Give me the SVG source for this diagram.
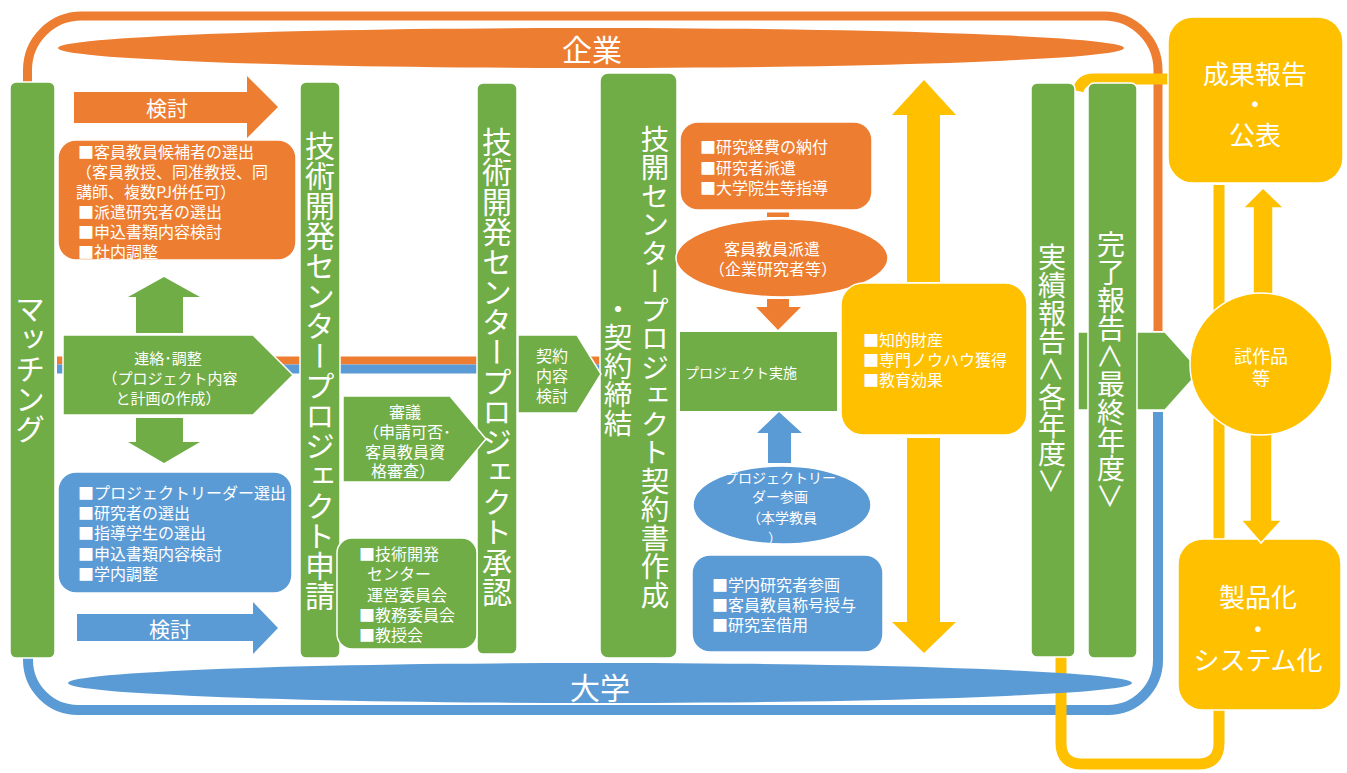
<svg xmlns="http://www.w3.org/2000/svg" width="1347" height="773" viewBox="0 0 1347 773">
<style>
text{font-family:"Noto Sans CJK JP","Liberation Sans",sans-serif;fill:#fff;dominant-baseline:central}
.g{fill:#70AD47;stroke:#fff;stroke-width:1.5}
.o{fill:#ED7D31;stroke:#fff;stroke-width:1.5}
.b{fill:#5B9BD5;stroke:#fff;stroke-width:1.5}
.y{fill:#FFC000;stroke:#fff;stroke-width:1.5}
.v{writing-mode:vertical-rl}
.m{text-anchor:middle}
.s16{font-size:16px}
.s15{font-size:15px}
.s14{font-size:14px}
</style>
<rect width="1347" height="773" fill="#fff"/>
<g id="connectors">
  <path d="M27.5 82 V70 A54 54 0 0 1 81.5 16 H1104 A54 54 0 0 1 1158 70 V331" fill="none" stroke="#ED7D31" stroke-width="9"/>
  <path d="M28 658 V660 A50 50 0 0 0 78 710 H1108 A50 50 0 0 0 1158 660 V412" fill="none" stroke="#5B9BD5" stroke-width="10"/>
  <rect x="57" y="356.5" width="543" height="8" fill="#ED7D31"/>
  <rect x="57" y="364.5" width="543" height="9" fill="#5B9BD5"/>
  <path d="M1168 79 H1094 Q1081 79 1078 91" fill="none" stroke="#FFC000" stroke-width="11"/>
  <path d="M1061 655 V743 Q1061 764 1082 764 H1198 Q1219 764 1219 743 V185" fill="none" stroke="#FFC000" stroke-width="11"/>
  <rect x="767" y="212.5" width="22" height="4.5" fill="#ED7D31"/>
</g>
<g id="banner-kigyo">
  <ellipse cx="591" cy="48" rx="533" ry="20" fill="#ED7D31"/>
  <text x="592" y="48" class="m" font-size="30">企業</text>
</g>
<g id="banner-daigaku">
  <ellipse cx="600" cy="683" rx="532" ry="20" fill="#5B9BD5"/>
  <text x="600" y="686" class="m" font-size="30">大学</text>
</g>
<g id="matching">
  <rect x="10" y="82" width="45" height="576" rx="6" class="g"/>
  <text x="30" y="369" class="v m" font-size="30">マッチング</text>
</g>
<g id="arrow-kento-o">
  <polygon points="74,92 247,92 247,76 278,107 247,138 247,123 74,123" fill="#ED7D31"/>
  <text x="167" y="107" class="m" font-size="21">検討</text>
</g>
<g id="box-kigyo-left">
  <rect x="58" y="140" width="238" height="120" rx="18" class="o"/>
  <text x="78" y="151" class="s16">■客員教員候補者の選出</text>
  <text x="76" y="171" class="s16">（客員教授、同准教授、同</text>
  <text x="76" y="191" class="s16">講師、複数PJ併任可）</text>
  <text x="78" y="211" class="s16">■派遣研究者の選出</text>
  <text x="78" y="231" class="s16">■申込書類内容検討</text>
  <text x="78" y="251" class="s16">■社内調整</text>
</g>
<g id="arrow-up-green">
  <polygon points="136,333 136,297 128,297 164,277 200,297 183,297 183,333" fill="#70AD47"/>
  <polygon points="136,418 136,442 128,442 164,463 200,442 183,442 183,418" fill="#70AD47"/>
</g>
<g id="renraku">
  <polygon points="63,335 253,335 293,375 253,415 63,415" class="g"/>
  <text x="168" y="357" class="m s15">連絡･調整</text>
  <text x="170" y="377" class="m s15">（プロジェクト内容</text>
  <text x="168" y="397" class="m s15">と計画の作成）</text>
</g>
<g id="box-daigaku-left">
  <rect x="58" y="472" width="234" height="121" rx="18" class="b"/>
  <text x="78" y="492" class="s16">■プロジェクトリーダー選出</text>
  <text x="78" y="512" class="s16">■研究者の選出</text>
  <text x="78" y="532" class="s16">■指導学生の選出</text>
  <text x="78" y="553" class="s16">■申込書類内容検討</text>
  <text x="78" y="573" class="s16">■学内調整</text>
</g>
<g id="arrow-kento-b">
  <polygon points="77,614 253,614 253,602 278,628 253,654 253,641 77,641" fill="#5B9BD5"/>
  <text x="170" y="628" class="m" font-size="21">検討</text>
</g>
<g id="shinsei">
  <rect x="300" y="82" width="40" height="576" rx="6" class="g"/>
  <text x="320" y="371" class="v m" font-size="30">技術開発センタープロジェクト申請</text>
</g>
<g id="shonin">
  <rect x="477" y="83" width="40" height="571" rx="6" class="g"/>
  <text x="497" y="367" class="v m" font-size="30">技術開発センタープロジェクト承認</text>
</g>
<g id="shingi">
  <polygon points="343,396 450,396 486,439 450,482 343,482" class="g"/>
  <text x="405" y="411" class="m s16">審議</text>
  <text x="407" y="431" class="m s16">（申請可否･</text>
  <text x="405" y="451" class="m s16">客員教員資</text>
  <text x="403" y="470" class="m s16">格審査）</text>
</g>
<g id="iinkai">
  <rect x="337" y="538" width="140" height="111" rx="15" class="g"/>
  <text x="359" y="553" class="s16">■技術開発</text>
  <text x="367" y="573" class="s16">センター</text>
  <text x="367" y="594" class="s16">運営委員会</text>
  <text x="359" y="614" class="s16">■教務委員会</text>
  <text x="359" y="634" class="s16">■教授会</text>
</g>
<g id="keiyaku">
  <rect x="600" y="73" width="77" height="585" rx="8" class="g"/>
  <text x="655" y="367" class="v m" font-size="28.5">技開センタープロジェクト契約書作成</text>
  <text x="618" y="366" class="v m" font-size="28.5">・契約締結</text>
</g>
<g id="keiyaku-naiyo">
  <polygon points="518,335 577,335 601,374 577,413 518,413" class="g"/>
  <text x="552" y="355" class="m s16">契約</text>
  <text x="552" y="375" class="m s16">内容</text>
  <text x="552" y="395" class="m s16">検討</text>
</g>
<g id="box-kigyo-right">
  <rect x="680" y="122" width="192" height="88" rx="18" class="o"/>
  <text x="700" y="146" class="s16">■研究経費の納付</text>
  <text x="700" y="167" class="s16">■研究者派遣</text>
  <text x="700" y="187" class="s16">■大学院生等指導</text>
</g>
<g id="haken">
  <ellipse cx="782" cy="258" rx="106" ry="39" class="o"/>
  <text x="772" y="248" class="m s16">客員教員派遣</text>
  <text x="773" y="268" class="m s16">（企業研究者等）</text>
</g>
<g id="arrow-down-o">
  <polygon points="767,299 789,299 789,307 801,307 778,330 756,307 767,307" fill="#ED7D31"/>
</g>
<g id="jisshi">
  <rect x="680" y="332" width="157" height="79" fill="#70AD47"/>
  <text x="685" y="372" class="s14">プロジェクト実施</text>
</g>
<g id="arrow-up-b">
  <polygon points="768,463 768,433 757,433 779,412 802,433 791,433 791,463" fill="#5B9BD5"/>
</g>
<g id="leader">
  <ellipse cx="782" cy="505" rx="89" ry="39" class="b"/>
  <text x="780" y="477" class="m s14">プロジェクトリー</text>
  <text x="780" y="496" class="m s14">ダー参画</text>
  <text x="782" y="517" class="m s14">（本学教員</text>
  <text x="775" y="537" class="m s14">）</text>
</g>
<g id="box-daigaku-right">
  <rect x="692" y="555" width="191" height="97" rx="18" class="b"/>
  <text x="712" y="584" class="s16">■学内研究者参画</text>
  <text x="712" y="604" class="s16">■客員教員称号授与</text>
  <text x="712" y="624" class="s16">■研究室借用</text>
</g>
<g id="seika-arrows">
  <polygon points="907,282 907,115 892,115 924,80 956,115 940,115 940,282" fill="#FFC000"/>
  <polygon points="907,438 907,622 892,622 924,653 956,622 940,622 940,438" fill="#FFC000"/>
</g>
<g id="seika">
  <rect x="841" y="283" width="186" height="152" rx="22" class="y"/>
  <text x="863" y="339" class="s16">■知的財産</text>
  <text x="863" y="359" class="s16">■専門ノウハウ獲得</text>
  <text x="863" y="379" class="s16">■教育効果</text>
</g>
<g id="arrow-shisaku">
  <polygon points="1078,332 1165,332 1200,371 1165,410 1078,410" class="g"/>
</g>
<g id="jisseki">
  <rect x="1031" y="83" width="44" height="574" rx="6" class="g"/>
  <text x="1052" y="369" class="v m" font-size="28">実績報告＜各年度＞</text>
</g>
<g id="kanryo">
  <rect x="1088" y="83" width="49" height="575" rx="6" class="g"/>
  <text x="1111" y="370" class="v m" font-size="28">完了報告＜最終年度＞</text>
</g>
<g id="kohyo">
  <rect x="1168" y="17" width="175" height="166" rx="25" class="y"/>
  <text x="1255" y="72" class="m" font-size="26">成果報告</text>
  <text x="1255" y="102" class="m" font-size="26">・</text>
  <text x="1255" y="133" class="m" font-size="26">公表</text>
</g>
<g id="seihinka">
  <rect x="1178" y="539" width="163" height="171" rx="25" class="y"/>
  <text x="1258" y="595" class="m" font-size="26">製品化</text>
  <text x="1258" y="627" class="m" font-size="26">・</text>
  <text x="1258" y="658" class="m" font-size="26">システム化</text>
</g>
<g id="yellow-arrows">
  <polygon points="1253,300 1253,208 1243,208 1263,188 1284,208 1273,208 1273,300" class="y"/>
  <polygon points="1250,425 1250,520 1241,520 1261,543 1282,520 1272,520 1272,425" class="y"/>
</g>
<g id="shisakuhin">
  <circle cx="1261" cy="364" r="71" class="y" stroke-width="2"/>
  <text x="1261" y="355" class="m" font-size="18">試作品</text>
  <text x="1261" y="377" class="m" font-size="18">等</text>
</g>
</svg>
